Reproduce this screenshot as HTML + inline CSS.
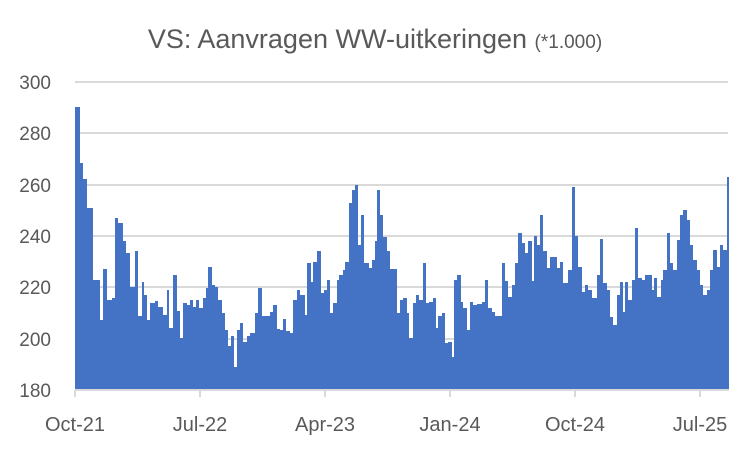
<!DOCTYPE html>
<html><head><meta charset="utf-8"><style>
body{margin:0;background:#fff;}
svg{display:block;font-family:"Liberation Sans",Calibri,sans-serif;}
</style></head><body>
<svg width="751" height="451" viewBox="0 0 751 451">
<rect width="751" height="451" fill="#fff"/>
<text x="375" y="48" text-anchor="middle" font-size="27" fill="#595959">VS: Aanvragen WW-uitkeringen <tspan font-size="19">(*1.000)</tspan></text>
<g stroke="#d9d9d9" stroke-width="2">
<line x1="75" y1="82" x2="728" y2="82"/>
<line x1="75" y1="133" x2="728" y2="133"/>
<line x1="75" y1="185" x2="728" y2="185"/>
<line x1="75" y1="236" x2="728" y2="236"/>
<line x1="75" y1="287" x2="728" y2="287"/>
<line x1="75" y1="339" x2="728" y2="339"/>
</g>
<path fill="#4472c4" d="M75 390 V107 H80 V163 H83 V179 H87 V208 H93 V280 H100 V320 H103 V269 H107 V300 H112 V298 H115 V218 H118 V223 H123 V241 H126 V253 H130 V287 H135 V251 H138 V316 H142 V282 H144 V295 H147 V320 H150 V303 H155 V301 H158 V307 H163 V315 H167 V290 H169 V328 H173 V275 H177 V311 H180 V338 H183 V303 H187 V305 H190 V300 H193 V307 H196 V300 H199 V308 H203 V298 H206 V288 H208 V267 H212 V285 H215 V287 H218 V300 H222 V313 H225 V330 H228 V346 H231 V336 H234 V367 H237 V330 H240 V323 H243 V342 H247 V336 H250 V333 H255 V313 H258 V288 H262 V316 H267 V316 H270 V312 H273 V305 H277 V329 H280 V330 H283 V319 H286 V331 H290 V333 H293 V300 H297 V290 H300 V295 H305 V315 H307 V263 H311 V282 H313 V262 H317 V251 H321 V293 H324 V290 H327 V280 H330 V313 H333 V303 H337 V280 H339 V275 H343 V270 H345 V262 H349 V203 H352 V190 H355 V185 H358 V245 H361 V215 H364 V263 H369 V268 H372 V260 H375 V241 H377 V190 H380 V215 H383 V237 H387 V251 H390 V269 H397 V313 H400 V300 H403 V298 H407 V313 H409 V338 H413 V303 H416 V295 H419 V300 H423 V263 H426 V303 H429 V302 H433 V298 H436 V328 H438 V316 H442 V313 H445 V343 H448 V342 H452 V357 H454 V280 H457 V275 H461 V302 H463 V308 H467 V330 H470 V302 H473 V305 H477 V304 H482 V302 H485 V280 H488 V308 H492 V312 H495 V316 H502 V263 H505 V281 H508 V297 H512 V285 H515 V263 H518 V233 H522 V243 H525 V253 H528 V241 H532 V281 H534 V236 H537 V245 H540 V215 H543 V251 H547 V268 H550 V257 H557 V268 H560 V262 H563 V283 H568 V270 H572 V187 H575 V236 H578 V267 H582 V292 H585 V285 H588 V290 H592 V298 H597 V275 H600 V239 H603 V283 H607 V290 H610 V317 H613 V325 H617 V295 H620 V282 H623 V312 H625 V282 H628 V300 H632 V280 H635 V228 H638 V278 H642 V280 H645 V275 H652 V290 H654 V278 H657 V297 H661 V280 H663 V270 H667 V233 H670 V263 H673 V270 H677 V240 H680 V215 H683 V210 H687 V220 H690 V245 H693 V260 H697 V270 H700 V285 H703 V295 H707 V290 H710 V270 H713 V250 H717 V267 H720 V245 H723 V250 H727 V177 H729 V390 Z"/>
<line x1="75" y1="390" x2="729" y2="390" stroke="#d9d9d9" stroke-width="2"/>
<g stroke="#d9d9d9" stroke-width="2">
<line x1="75" y1="390" x2="75" y2="397"/>
<line x1="200" y1="390" x2="200" y2="397"/>
<line x1="325" y1="390" x2="325" y2="397"/>
<line x1="450" y1="390" x2="450" y2="397"/>
<line x1="575" y1="390" x2="575" y2="397"/>
<line x1="700" y1="390" x2="700" y2="397"/>
</g>
<g font-size="19" fill="#595959" text-anchor="end">
<text x="51" y="89">300</text>
<text x="51" y="140">280</text>
<text x="51" y="192">260</text>
<text x="51" y="243">240</text>
<text x="51" y="294">220</text>
<text x="51" y="346">200</text>
<text x="51" y="397">180</text>
</g>
<g font-size="20" fill="#595959" text-anchor="middle">
<text x="75" y="431">Oct-21</text>
<text x="200" y="431">Jul-22</text>
<text x="325" y="431">Apr-23</text>
<text x="450" y="431">Jan-24</text>
<text x="575" y="431">Oct-24</text>
<text x="700" y="431">Jul-25</text>
</g>
</svg>
</body></html>
